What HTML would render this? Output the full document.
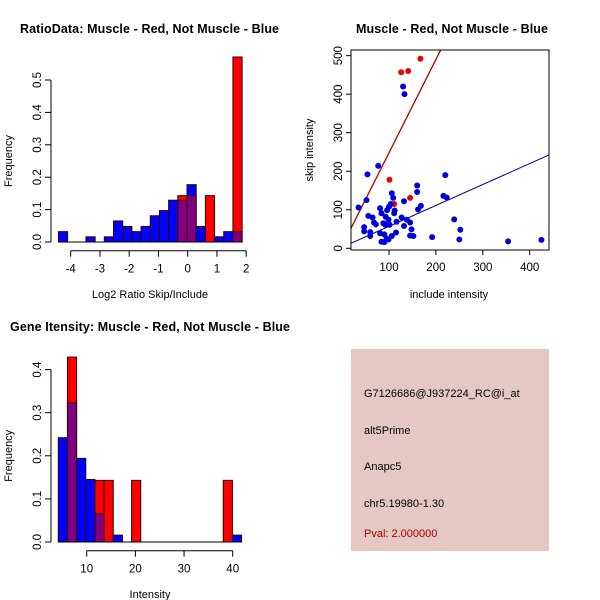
<!DOCTYPE html>
<html><head><meta charset="utf-8"><style>
body{margin:0;background:#fff}
svg{display:block;font-family:"Liberation Sans",Arial,sans-serif}
</style></head><body>
<svg id="s" width="600" height="600" viewBox="0 0 600 600" xmlns="http://www.w3.org/2000/svg">
<rect x="0" y="0" width="600" height="600" fill="#fff"/>
<text x="20" y="33" font-size="12.5" font-weight="bold" textLength="259">RatioData: Muscle - Red, Not Muscle - Blue</text>
<text x="356" y="33" font-size="12.5" font-weight="bold" textLength="192">Muscle - Red, Not Muscle - Blue</text>
<text x="10" y="331" font-size="12.5" font-weight="bold" textLength="280">Gene Itensity: Muscle - Red, Not Muscle - Blue</text>
<g id="h1"></g>
<g id="sc"></g>
<g id="h2"></g>
<g>
<rect x="351" y="349" width="198" height="202" fill="#e6c8c2"/>
<text x="364" y="397" font-size="11">G7126686@J937224_RC@i_at</text>
<text x="364" y="434" font-size="11">alt5Prime</text>
<text x="364" y="470" font-size="11">Anapc5</text>
<text x="364" y="507" font-size="11">chr5.19980-1.30</text>
<text x="364" y="537" font-size="11" fill="#a00000">Pval: 2.000000</text>
</g>
</svg>
<script>
// Ratio histogram data
const h1Start = -4.42;
const h1BinWidth = 0.314;
const h1Blue = [0.032,0,0,0.016,0,0.016,0.065,0.048,0.032,0.048,0.081,0.097,0.129,0.129,0.177,0.048,0,0.016,0.032,0.032];
const h1Red  = [0,0,0,0,0,0,0,0,0,0,0,0,0,0.143,0.143,0,0.143,0,0,0.571];
const h1XTicks = [-4,-3,-2,-1,0,1,2];
const h1YTicks = [0,0.1,0.2,0.3,0.4,0.5];
// Intensity histogram data
const h2Start = 4.16;
const h2BinWidth = 1.883;
const h2Blue = [0.242,0.323,0.194,0.145,0.065,0,0.016,0,0,0,0,0,0,0,0,0,0,0,0,0.016];
const h2Red  = [0,0.429,0,0,0.143,0.143,0,0,0.143,0,0,0,0,0,0,0,0,0,0.143,0];
const h2XTicks = [10,20,30,40];
const h2YTicks = [0,0.1,0.2,0.3,0.4];
// Scatter data
const blueX = [130,133,77,54,35,52,56,47,47,60,60,65,68,72,81,84,88,81,84,90,90,95,99,93,96,100,104,106,109,112,111,116,115,106,99,127,132,132,138,145,145,148,152,160,160,162,168,192,216,223,220,239,252,250,354,425,101,92];
const blueY = [420,400,214,192,106,125,84,55,44,42,32,80,67,62,104,91,65,39,17,16,36,25,23,82,99,108,115,143,131,98,91,69,41,32,74,80,58,122,74,67,33,49,32,163,146,101,110,29,136,132,190,75,48,23,18,22,61,61];
const redX = [167,126,141,101,111,145];
const redY = [492,457,460,178,115,131];
const redLine = [6,2.42];   // intercept, slope
const blueLine = [2.7,0.543];
const scXTicks = [100,200,300,400];
const scYTicks = [0,100,200,300,400,500];

const NS="http://www.w3.org/2000/svg";
function mk(parent,tag,attrs,text){const e=document.createElementNS(NS,tag);for(const k in attrs)e.setAttribute(k,attrs[k]);if(text!==undefined)e.textContent=text;parent.appendChild(e);return e;}

function hist(gid,start,bw,blue,red,xt,yt,sx,sy,yAxisX,xAxisY,xlab,xlabY,labX,prefix){
  const g=document.getElementById(gid);
  for(let i=0;i<blue.length;i++){
    const x0=sx(start+i*bw),x1=sx(start+(i+1)*bw);
    const b=blue[i],r=red[i];
    const mx=Math.max(b,r),mn=Math.min(b,r);
    if(mx>0){
      const e=mk(g,'rect',{x:x0,y:sy(mx),width:x1-x0,height:sy(0)-sy(mx),fill:b>=r?'#0000ff':'#ff0000',stroke:'#300',"stroke-width":1});
      
      
    }
    if(mn>0){
      const e=mk(g,'rect',{x:x0,y:sy(mn),width:x1-x0,height:sy(0)-sy(mn),fill:'#800080',stroke:'#300',"stroke-width":1});
      
      
    }
  }
  const base=mk(g,'line',{x1:sx(start),x2:sx(start+blue.length*bw),y1:sy(0),y2:sy(0),stroke:'#000'});
  
  
  const ya=mk(g,'line',{x1:yAxisX,x2:yAxisX,y1:sy(yt[0]),y2:sy(yt[yt.length-1]),stroke:'#000'});
  
  
  yt.forEach(v=>{
    mk(g,'line',{x1:yAxisX-6,x2:yAxisX,y1:sy(v),y2:sy(v),stroke:'#000'});
    const t=mk(g,'text',{x:yAxisX-10,y:sy(v),"font-size":11.5,"text-anchor":"middle",transform:`rotate(-90 ${yAxisX-10} ${sy(v)})`},v.toFixed(1));
    
    
  });
  const xa=mk(g,'line',{x1:sx(xt[0]),x2:sx(xt[xt.length-1]),y1:xAxisY,y2:xAxisY,stroke:'#000'});
  
  
  xt.forEach(v=>{
    mk(g,'line',{x1:sx(v),x2:sx(v),y1:xAxisY,y2:xAxisY+6,stroke:'#000'});
    const t=mk(g,'text',{x:sx(v),y:xAxisY+22,"font-size":11.5,"text-anchor":"middle"},String(v));
    
    
  });
  const xl=mk(g,'text',{x:labX,y:xlabY,"font-size":11,"text-anchor":"middle"},xlab);
  
  
  const cy=(sy(0)+sy(yt[yt.length-1]))/2;
  const yl=mk(g,'text',{x:12,y:cy,"font-size":11,"text-anchor":"middle",transform:`rotate(-90 12 ${cy})`},'Frequency');
  
  
}

hist('h1',h1Start,h1BinWidth,h1Blue,h1Red,h1XTicks,h1YTicks,
  v=>70.7+(v+4)*29.25, v=>242-v*324, 51, 250.7,'Log2 Ratio Skip/Include',298,150,'ratio');
hist('h2',h2Start,h2BinWidth,h2Blue,h2Red,h2XTicks,h2YTicks,
  v=>86.7+(v-10)*4.867, v=>542-v*431, 51, 550.7,'Intensity',598,150,'intensity');

// scatter
(function(){
  const g=document.getElementById('sc');
  const sx=v=>389+(v-100)*0.469, sy=v=>248.3-v*0.3853;
  const L=351,R=549,T=50,B=250;
  const clip=mk(g,'clipPath',{id:'scClip'});
  mk(clip,'rect',{x:L,y:T,width:R-L,height:B-T});
  const x0=(L-389)/0.469+100, x1=(R-389)/0.469+100;
  const rl=mk(g,'line',{x1:sx(x0),y1:sy(redLine[0]+redLine[1]*x0),x2:sx(x1),y2:sy(redLine[0]+redLine[1]*x1),stroke:'#b00000',"stroke-width":1.3,"clip-path":"url(#scClip)"});
  
  
  const bl=mk(g,'line',{x1:sx(x0),y1:sy(blueLine[0]+blueLine[1]*x0),x2:sx(x1),y2:sy(blueLine[0]+blueLine[1]*x1),stroke:'#00008b',"stroke-width":1,"clip-path":"url(#scClip)"});
  
  
  redX.forEach((v,i)=>{
    const c=mk(g,'circle',{cx:sx(v),cy:sy(redY[i]),r:3,fill:'#ee0000'});
    
    
  });
  blueX.forEach((v,i)=>{
    const c=mk(g,'circle',{cx:sx(v),cy:sy(blueY[i]),r:3,fill:'#0000dd'});
    
    
  });
  const box=mk(g,'rect',{x:L,y:T,width:R-L,height:B-T,fill:'none',stroke:'#000'});
  
  
  scXTicks.forEach(v=>{
    mk(g,'line',{x1:sx(v),x2:sx(v),y1:B,y2:B+5,stroke:'#000'});
    const t=mk(g,'text',{x:sx(v),y:B+21,"font-size":11.5,"text-anchor":"middle"},String(v));
    
    
  });
  scYTicks.forEach(v=>{
    mk(g,'line',{x1:L-5,x2:L,y1:sy(v),y2:sy(v),stroke:'#000'});
    const t=mk(g,'text',{x:L-9,y:sy(v),"font-size":11.5,"text-anchor":"middle",transform:`rotate(-90 ${L-9} ${sy(v)})`},String(v));
    
    
  });
  const xl=mk(g,'text',{x:449,y:298,"font-size":11,"text-anchor":"middle"},'include intensity');
  
  
  const yl=mk(g,'text',{x:313,y:150,"font-size":11,"text-anchor":"middle",transform:'rotate(-90 313 150)'},'skip intensity');
  
  
})();
</script>
</body></html>
